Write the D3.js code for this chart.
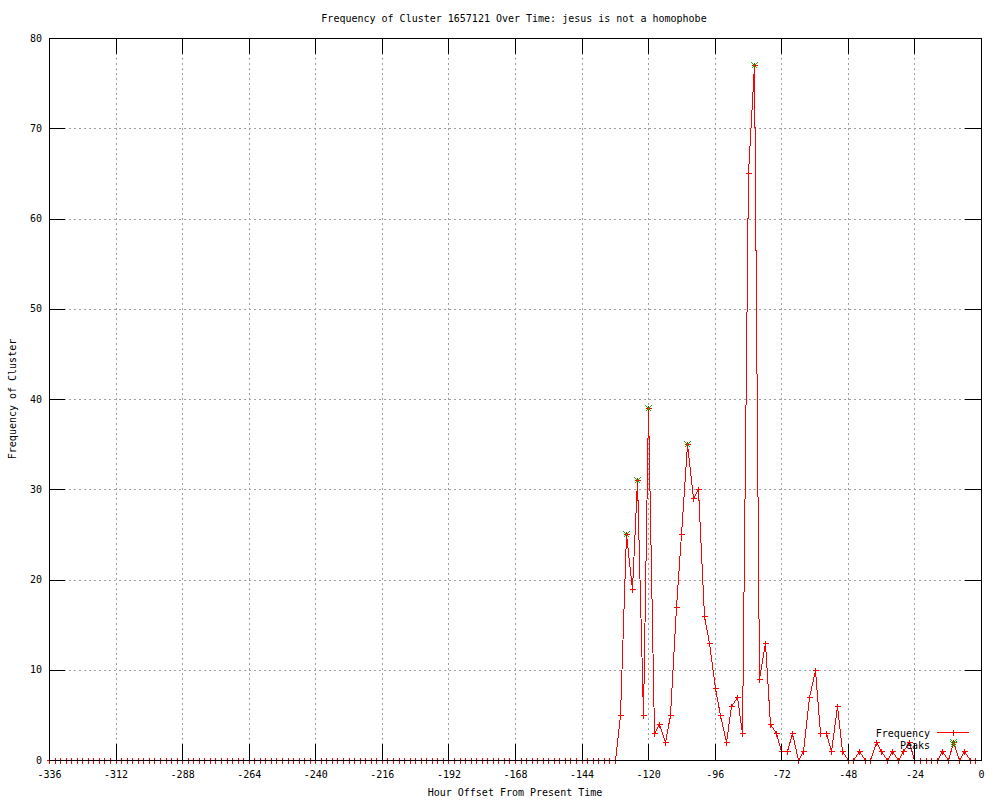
<!DOCTYPE html>
<html>
<head>
<meta charset="utf-8">
<script src="https://cdn.jsdelivr.net/npm/d3@7"></script>
<style>
	body { margin: 0; background: #fff; }
	text { font-family: "DejaVu Sans Mono", monospace; font-size: 10px; fill: #000; }
</style>
</head>
<body>
<svg id="chart"></svg>
<script>

var title = "Frequency of Cluster 1657121 Over Time: jesus is not a homophobe";
var xLabel = "Hour Offset From Present Time";
var yLabel = "Frequency of Cluster";
var legendNames = ["Frequency", "Peaks"];

var hours = [
	-336,-334,-332,-330,-328,-326,-324,-322,-320,-318,
	-316,-314,-312,-310,-308,-306,-304,-302,-300,-298,
	-296,-294,-292,-290,-288,-286,-284,-282,-280,-278,
	-276,-274,-272,-270,-268,-266,-264,-262,-260,-258,
	-256,-254,-252,-250,-248,-246,-244,-242,-240,-238,
	-236,-234,-232,-230,-228,-226,-224,-222,-220,-218,
	-216,-214,-212,-210,-208,-206,-204,-202,-200,-198,
	-196,-194,-192,-190,-188,-186,-184,-182,-180,-178,
	-176,-174,-172,-170,-168,-166,-164,-162,-160,-158,
	-156,-154,-152,-150,-148,-146,-144,-142,-140,-138,
	-136,-134,-132,-130,-128,-126,-124,-122,-120,-118,
	-116,-114,-112,-110,-108,-106,-104,-102,-100,-98,
	-96,-94,-92,-90,-88,-86,-84,-82,-80,-78,
	-76,-74,-72,-70,-68,-66,-64,-62,-60,-58,
	-56,-54,-52,-50,-48,-46,-44,-42,-40,-38,
	-36,-34,-32,-30,-28,-26,-24,-22,-20,-18,
	-16,-14,-12,-10,-8,-6,-4,-2
];

var frequency = [
	0,0,0,0,0,0,0,0,0,0,
	0,0,0,0,0,0,0,0,0,0,
	0,0,0,0,0,0,0,0,0,0,
	0,0,0,0,0,0,0,0,0,0,
	0,0,0,0,0,0,0,0,0,0,
	0,0,0,0,0,0,0,0,0,0,
	0,0,0,0,0,0,0,0,0,0,
	0,0,0,0,0,0,0,0,0,0,
	0,0,0,0,0,0,0,0,0,0,
	0,0,0,0,0,0,0,0,0,0,
	0,0,0,5,25,19,31,5,39,3,
	4,2,5,17,25,35,29,30,16,13,
	8,5,2,6,7,3,65,77,9,13,
	4,3,1,1,3,0,1,7,10,3,
	3,1,6,1,0,0,1,0,0,2,
	1,0,1,0,1,2,0,0,0,0,
	0,1,0,2,0,1,0,0
];

var peakHours = [-128, -124, -120, -106, -82, -10];
var peakValues = [25, 31, 39, 35, 77, 2];

var xTicks = [-336, -312, -288, -264, -240, -216, -192, -168, -144, -120, -96, -72, -48, -24, 0];
var yTicks = [0, 10, 20, 30, 40, 50, 60, 70, 80];

(function() {

	var W = 1000, H = 800;
	var mLeft = 49, mRight = 981, mTop = 38, mBottom = 760;
	var tickLen = 16;

	var svg = d3.select("#chart")
		.attr("width", W)
		.attr("height", H);

	var x = d3.scaleLinear().domain([-336, 0]).range([mLeft, mRight]);
	var y = d3.scaleLinear().domain([0, 80]).range([mBottom, mTop]);

	function px(v) { return Math.round(v) + 0.5; }

	// grid
	var gridX = svg.append("g")
		.attr("transform", "translate(0," + mBottom + ")")
		.call(d3.axisBottom(x).tickValues(xTicks).tickSize(-(mBottom - mTop)).tickFormat(""));

	var gridY = svg.append("g")
		.attr("transform", "translate(" + mLeft + ",0)")
		.call(d3.axisLeft(y).tickValues(yTicks).tickSize(-(mRight - mLeft)).tickFormat(""));

	[gridX, gridY].forEach(function(g) {
		g.select(".domain").remove();
		g.selectAll("line")
			.style("stroke", "#a0a0a0")
			.style("stroke-dasharray", "2,3")
			.style("shape-rendering", "crispEdges");
	});

	// frequency line
	var line = d3.line()
		.x(function(d) { return px(x(d[0])); })
		.y(function(d) { return px(y(d[1])); });

	var pts = hours.map(function(h, i) { return [h, frequency[i]]; });

	svg.append("path")
		.attr("d", line(pts))
		.style("fill", "none")
		.style("stroke", "#ff0000")
		.style("stroke-width", 1)
		.style("shape-rendering", "crispEdges");

	function plus(cx, cy, r) {
		return "M" + (cx - r) + "," + cy + "h" + (2 * r) + "M" + cx + "," + (cy - r) + "v" + (2 * r);
	}
	function cross(cx, cy, r) {
		return "M" + (cx - r) + "," + (cy - r) + "L" + (cx + r) + "," + (cy + r) +
			"M" + (cx - r) + "," + (cy + r) + "L" + (cx + r) + "," + (cy - r);
	}

	svg.append("g").selectAll("path")
		.data(pts)
		.enter().append("path")
		.attr("d", function(d) { return plus(px(x(d[0])), px(y(d[1])), 3); })
		.style("fill", "none")
		.style("stroke", "#ff0000")
		.style("shape-rendering", "crispEdges");

	// peaks
	svg.append("g").selectAll("path")
		.data(peakHours.map(function(h, i) { return [h, peakValues[i]]; }))
		.enter().append("path")
		.attr("d", function(d) { return cross(px(x(d[0])), px(y(d[1])), 3); })
		.style("fill", "none")
		.style("stroke", "#00c000")
		.style("shape-rendering", "crispEdges");

	// axes with inward ticks
	var axB = svg.append("g")
		.attr("transform", "translate(0," + mBottom + ")")
		.call(d3.axisBottom(x).tickValues(xTicks).tickSizeInner(-tickLen).tickSizeOuter(0).tickPadding(11)
			.tickFormat(function(d) { return String(d); }));

	var axL = svg.append("g")
		.attr("transform", "translate(" + mLeft + ",0)")
		.call(d3.axisLeft(y).tickValues(yTicks).tickSizeInner(-tickLen).tickSizeOuter(0).tickPadding(7));

	var axT = svg.append("g")
		.attr("transform", "translate(0," + mTop + ")")
		.call(d3.axisTop(x).tickValues(xTicks).tickSizeInner(-tickLen).tickSizeOuter(0).tickFormat(""));

	var axR = svg.append("g")
		.attr("transform", "translate(" + mRight + ",0)")
		.call(d3.axisRight(y).tickValues(yTicks).tickSizeInner(-tickLen).tickSizeOuter(0).tickFormat(""));

	[axB, axL, axT, axR].forEach(function(g) {
		g.select(".domain").remove();
		g.selectAll("line").style("stroke", "#000").style("shape-rendering", "crispEdges");
		g.selectAll("text")
			.style("font-family", "'DejaVu Sans Mono', monospace")
			.style("font-size", "10px")
			.style("fill", "#000");
	});

	// border
	svg.append("rect")
		.attr("x", mLeft + 0.5)
		.attr("y", mTop + 0.5)
		.attr("width", mRight - mLeft)
		.attr("height", mBottom - mTop)
		.style("fill", "none")
		.style("stroke", "#000")
		.style("shape-rendering", "crispEdges");

	// titles
	svg.append("text")
		.attr("x", 514)
		.attr("y", 22)
		.style("text-anchor", "middle")
		.text(title);

	svg.append("text")
		.attr("x", (mLeft + mRight) / 2)
		.attr("y", 796)
		.style("text-anchor", "middle")
		.text(xLabel);

	svg.append("text")
		.attr("transform", "translate(16," + (mTop + mBottom) / 2 + ") rotate(-90)")
		.style("text-anchor", "middle")
		.text(yLabel);

	// legend
	var key = svg.append("g");
	key.append("text")
		.attr("x", 930).attr("y", 736.5)
		.style("text-anchor", "end")
		.text(legendNames[0]);
	key.append("line")
		.attr("x1", 937).attr("x2", 969)
		.attr("y1", 732.5).attr("y2", 732.5)
		.style("stroke", "#ff0000")
		.style("shape-rendering", "crispEdges");
	key.append("path")
		.attr("d", plus(953.5, 732.5, 3))
		.style("stroke", "#ff0000")
		.style("shape-rendering", "crispEdges");
	key.append("text")
		.attr("x", 930).attr("y", 748.5)
		.style("text-anchor", "end")
		.text(legendNames[1]);
	key.append("path")
		.attr("d", cross(953.5, 744.5, 3))
		.style("fill", "none")
		.style("stroke", "#00c000")
		.style("shape-rendering", "crispEdges");

})();

</script>
</body>
</html>
